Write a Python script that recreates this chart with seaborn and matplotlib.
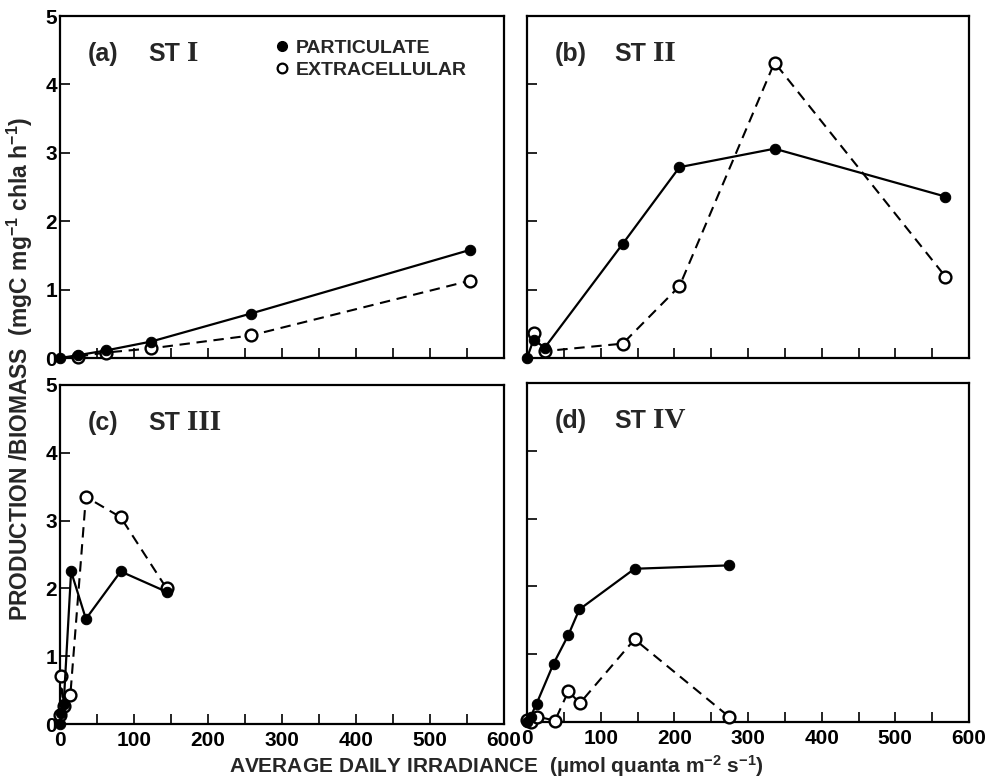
import numpy as np
import pandas as pd
import matplotlib
matplotlib.use("Agg")
import matplotlib.pyplot as plt
from matplotlib.lines import Line2D
from matplotlib.ticker import MultipleLocator
import seaborn as sns

# ---------------- data ----------------
panel_letters = ["(a)", "(b)", "(c)", "(d)"]
station_numerals = ["I", "II", "III", "IV"]
legend_labels = ["PARTICULATE", "EXTRACELLULAR"]

a_part_x = [0, 24, 62, 123, 258, 554]
a_part_y = [0.0, 0.04, 0.11, 0.24, 0.65, 1.58]
a_extra_x = [24, 62, 123, 258, 554]
a_extra_y = [0.02, 0.08, 0.14, 0.33, 1.13]

b_part_x = [0, 9, 24, 130, 207, 336, 568]
b_part_y = [0.0, 0.27, 0.15, 1.67, 2.79, 3.06, 2.36]
b_extra_x = [9, 24, 130, 207, 336, 568]
b_extra_y = [0.37, 0.10, 0.21, 1.05, 4.32, 1.19]

c_part_x = [0, 2, 5, 15, 35, 82, 144]
c_part_y = [0.0, 0.16, 0.30, 2.25, 1.55, 2.25, 1.95]
c_extra_x = [0, 1, 5, 14, 35, 82, 144]
c_extra_y = [0.14, 0.71, 0.27, 0.43, 3.35, 3.05, 2.0]

d_part_x = [0, 5, 13, 36, 56, 71, 146, 274]
d_part_y = [0.0, 0.08, 0.27, 0.86, 1.28, 1.66, 2.26, 2.31]
d_extra_x = [0, 6, 14, 38, 56, 72, 146, 274]
d_extra_y = [0.03, 0.0, 0.08, 0.02, 0.45, 0.28, 1.22, 0.08]

x_ticks = [0, 100, 200, 300, 400, 500, 600]
y_ticks = [0, 1, 2, 3, 4, 5]

panels = [
    (a_part_x, a_part_y, a_extra_x, a_extra_y),
    (b_part_x, b_part_y, b_extra_x, b_extra_y),
    (c_part_x, c_part_y, c_extra_x, c_extra_y),
    (d_part_x, d_part_y, d_extra_x, d_extra_y),
]

# ---------------- style ----------------
sns.set_style("ticks")
plt.rcParams["font.family"] = ["Liberation Sans", "DejaVu Sans"]
plt.rcParams["font.weight"] = "bold"
plt.rcParams["mathtext.fontset"] = "custom"
plt.rcParams["mathtext.rm"] = "Liberation Sans:bold"
plt.rcParams["mathtext.it"] = "Liberation Sans:bold"
plt.rcParams["mathtext.bf"] = "Liberation Sans:bold"
plt.rcParams["mathtext.default"] = "rm"

fig = plt.figure(figsize=(9.86, 7.81), dpi=100)
W, H = 986, 781
boxes = [
    (60, 504, 16, 358),
    (527, 969, 16, 358),
    (60, 504, 385, 724),
    (527, 969, 383, 722),
]

for i, ((l, r, t, b), (px, py, ex, ey)) in enumerate(zip(boxes, panels)):
    ax = fig.add_axes([l / W, 1 - b / H, (r - l) / W, (b - t) / H])
    part_df = pd.DataFrame({"x": px, "y": py})
    extra_df = pd.DataFrame({"x": ex, "y": ey})
    sns.lineplot(data=extra_df, x="x", y="y", ax=ax, color="black",
                 estimator=None, sort=False, linewidth=1.5,
                 linestyle=(0, (5, 3.2)), marker="o", markersize=8.5,
                 markerfacecolor="white", markeredgecolor="black",
                 markeredgewidth=1.7, clip_on=False, zorder=3)
    sns.lineplot(data=part_df, x="x", y="y", ax=ax, color="black",
                 estimator=None, sort=False, linewidth=1.6,
                 linestyle="-", marker="o", markersize=7.5,
                 markerfacecolor="black", markeredgecolor="black",
                 clip_on=False, zorder=4)
    ax.set_xlim(0, 600)
    ax.set_ylim(0, 5)
    ax.set_xticks(x_ticks)
    ax.xaxis.set_minor_locator(MultipleLocator(50))
    ax.set_yticks(y_ticks)
    ax.tick_params(axis="both", which="both", direction="in", length=7,
                   width=1.2, labelsize=15, pad=2, colors="black")
    ax.tick_params(axis="x", pad=5)
    if i % 2 == 1:
        ax.tick_params(axis="y", labelleft=False)
    if i < 2:
        ax.tick_params(axis="x", labelbottom=False)
    for lab in ax.get_xticklabels() + ax.get_yticklabels():
        lab.set_fontweight("bold")
    for sp in ax.spines.values():
        sp.set_visible(True)
        sp.set_linewidth(1.6)
        sp.set_color("black")
    ax.set_xlabel("")
    ax.set_ylabel("")
    if ax.get_legend():
        ax.get_legend().remove()

    ax.text(0.063, 0.868, panel_letters[i], transform=ax.transAxes,
            fontsize=18, fontweight="bold", va="baseline", ha="left")
    ax.text(0.198, 0.868, "ST", transform=ax.transAxes,
            fontsize=18, fontweight="bold", va="baseline", ha="left")
    ax.text(0.286, 0.868, station_numerals[i], transform=ax.transAxes,
            fontsize=21, fontweight="bold", family="Liberation Serif",
            va="baseline", ha="left")

    if i == 0:
        handles = [
            Line2D([], [], ls="none", marker="o", markersize=7,
                   mfc="black", mec="black"),
            Line2D([], [], ls="none", marker="o", markersize=7,
                   mfc="white", mec="black", mew=1.6),
        ]
        ax.legend(handles, legend_labels, loc="upper left",
                  bbox_to_anchor=(0.47, 0.955), frameon=False,
                  handlelength=0.6, handletextpad=0.4, labelspacing=0.25,
                  borderaxespad=0, prop={"weight": "bold", "size": 14})

fig.text(496 / W, 1 - 766 / H,
         "AVERAGE DAILY IRRADIANCE  (µmol quanta m$^{-2}$ s$^{-1}$)",
         ha="center", va="center", fontsize=15, fontweight="bold")
fig.text(20 / W, 1 - 369 / H,
         "PRODUCTION /BIOMASS  (mgC mg$^{-1}$ chla h$^{-1}$)",
         ha="center", va="center", rotation=90, fontsize=16.5,
         fontweight="bold")

fig.savefig("out.png", dpi=100, facecolor="white")
